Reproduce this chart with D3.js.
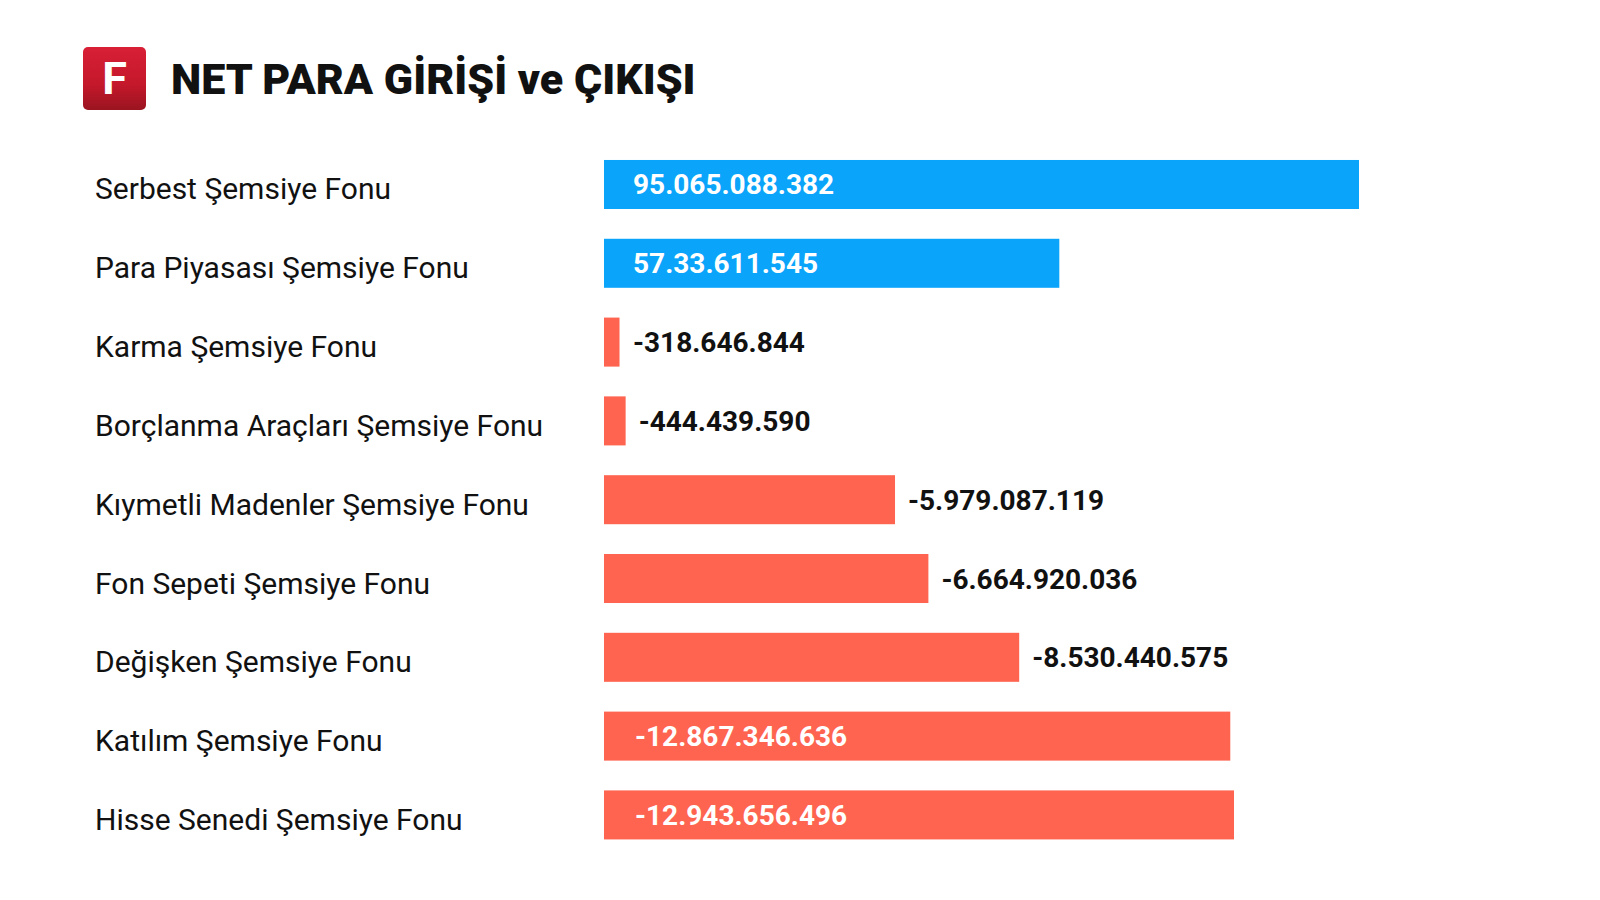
<!DOCTYPE html>
<html>
<head>
<meta charset="utf-8">
<script src="https://cdn.jsdelivr.net/npm/d3@7"></script>
<style>
  html, body { margin: 0; padding: 0; background: #fff; }
  svg { display: block; font-family: "Roboto", "Noto Sans", sans-serif; }
</style>
</head>
<body>
<div id="chart"></div>
<script>
// Fund categories, top to bottom
const categories = [
    "Serbest Şemsiye Fonu",
    "Para Piyasası Şemsiye Fonu",
    "Karma Şemsiye Fonu",
    "Borçlanma Araçları Şemsiye Fonu",
    "Kıymetli Madenler Şemsiye Fonu",
    "Fon Sepeti Şemsiye Fonu",
    "Değişken Şemsiye Fonu",
    "Katılım Şemsiye Fonu",
    "Hisse Senedi Şemsiye Fonu"
];

// Net flow values (TL)
const values = [
    95065088382,
    57330611545,
    -318646844,
    -444439590,
    -5979087119,
    -6664920036,
    -8530440575,
    -12867346636,
    -12943656496
];

// Labels as printed on the chart
const valueLabels = [
    "95.065.088.382",
    "57.33.611.545",
    "-318.646.844",
    "-444.439.590",
    "-5.979.087.119",
    "-6.664.920.036",
    "-8.530.440.575",
    "-12.867.346.636",
    "-12.943.656.496"
];

const data = categories.map((c, i) => ({ name: c, value: values[i], label: valueLabels[i] }));

const W = 1600, H = 900;
const x0 = 604;

const svg = d3.select("#chart")
    .append("svg")
    .attr("width", W)
    .attr("height", H);

// Inflows and outflows are drawn on separate scales
const xPos = d3.scaleLinear()
    .domain([0, d3.max(values)])
    .range([0, 755]);

const xNeg = d3.scaleLinear()
    .domain([0, d3.max(values, v => -v)])
    .range([0, 630]);

const barW = v => v >= 0 ? xPos(v) : xNeg(-v);

const y = d3.scaleBand()
    .domain(categories)
    .range([145, 854.4])
    .paddingInner(0.378)
    .paddingOuter(0.19);

const mid = d => y(d.name) + y.bandwidth() / 2;

// Logo
const grad = svg.append("defs").append("linearGradient")
    .attr("id", "logoGrad")
    .attr("x1", 0).attr("y1", 0).attr("x2", 0).attr("y2", 1);
grad.append("stop").attr("offset", "0%").attr("stop-color", "#d81f36");
grad.append("stop").attr("offset", "60%").attr("stop-color", "#c4182b");
grad.append("stop").attr("offset", "100%").attr("stop-color", "#9a1420");

svg.append("rect")
    .attr("x", 83).attr("y", 47)
    .attr("width", 63).attr("height", 63)
    .attr("rx", 5)
    .attr("fill", "url(#logoGrad)");

svg.append("text")
    .attr("x", 114.5).attr("y", 94)
    .attr("text-anchor", "middle")
    .style("font-size", "45px")
    .style("font-weight", "bold")
    .attr("fill", "#fff")
    .text("F");

// Headline
svg.append("text")
    .attr("x", 171).attr("y", 94)
    .style("font-size", "43px")
    .style("font-weight", "900")
    .attr("fill", "#111")
    .text("NET PARA GİRİŞİ ve ÇIKIŞI");

// Category labels
svg.selectAll(".cat")
    .data(data)
    .enter()
    .append("text")
    .attr("class", "cat")
    .attr("x", 95)
    .attr("y", d => mid(d) + 15)
    .style("font-size", "30px")
    .attr("fill", "#111")
    .text(d => d.name);

// Bars
svg.selectAll(".bar")
    .data(data)
    .enter()
    .append("rect")
    .attr("class", "bar")
    .attr("x", x0)
    .attr("y", d => y(d.name))
    .attr("width", d => barW(d.value))
    .attr("height", y.bandwidth())
    .attr("fill", d => d.value >= 0 ? "#0aa4fb" : "#ff6450");

// Value labels: inside the bar if it is long enough, otherwise after it
const inside = d => barW(d.value) > 430;

svg.selectAll(".val")
    .data(data)
    .enter()
    .append("text")
    .attr("class", "val")
    .attr("x", d => inside(d) ? x0 + (d.value >= 0 ? 29 : 31) : Math.max(x0 + 29, x0 + barW(d.value) + 13))
    .attr("y", d => mid(d) + 10)
    .style("font-size", "28px")
    .style("font-weight", "bold")
    .attr("fill", d => inside(d) ? "#fff" : "#111")
    .text(d => d.label);
</script>
</body>
</html>
